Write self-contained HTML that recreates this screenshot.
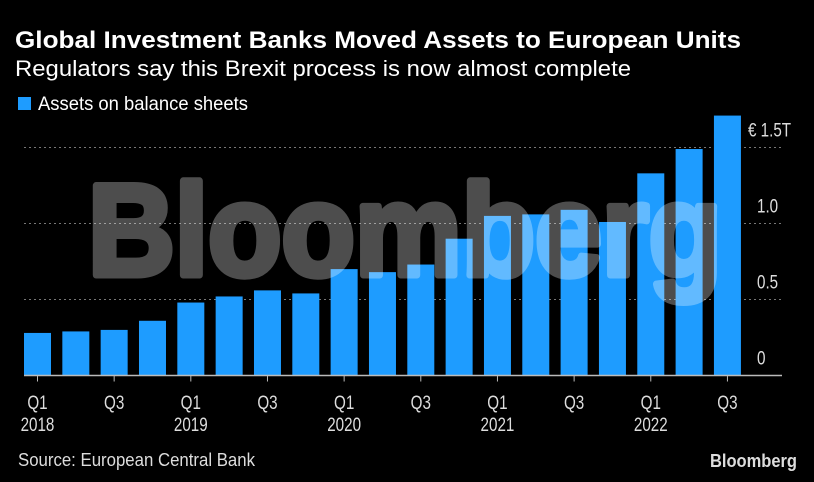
<!DOCTYPE html>
<html><head><meta charset="utf-8"><style>
html,body{margin:0;padding:0;background:#000;width:814px;height:482px;overflow:hidden}
svg{display:block}
text{font-family:"Liberation Sans",sans-serif}
</style></head><body>
<svg id="chart" width="814" height="482" viewBox="0 0 814 482">
  <text x="15" y="48" fill="#fff" font-size="24" style="font-weight:bold" textLength="726" lengthAdjust="spacingAndGlyphs">Global Investment Banks Moved Assets to European Units</text>
  <text x="15" y="76" fill="#fff" font-size="22" textLength="616" lengthAdjust="spacingAndGlyphs">Regulators say this Brexit process is now almost complete</text>
  <rect x="18" y="97" width="13" height="13" fill="#1e9cff"/>
  <text x="38" y="110" fill="#fff" font-size="19" textLength="210" lengthAdjust="spacingAndGlyphs">Assets on balance sheets</text>
  <g id="grid"></g>
  <g id="bars"></g>
  <g opacity="0.3">
    <text x="88" y="275" fill="#fff" stroke="#fff" stroke-width="7" stroke-linejoin="round" font-size="130" style="font-weight:bold" textLength="634" lengthAdjust="spacingAndGlyphs">Bloomberg</text>
  </g>
  <g id="axes"></g>
  <text x="18" y="466" fill="#ddd" font-size="18" textLength="237" lengthAdjust="spacingAndGlyphs">Source: European Central Bank</text>
  <text x="710" y="467" fill="#ddd" font-size="18" style="font-weight:bold" textLength="87" lengthAdjust="spacingAndGlyphs">Bloomberg</text>
</svg>
<script>
const categories = ["Q1 2018","Q2 2018","Q3 2018","Q4 2018","Q1 2019","Q2 2019","Q3 2019","Q4 2019","Q1 2020","Q2 2020","Q3 2020","Q4 2020","Q1 2021","Q2 2021","Q3 2021","Q4 2021","Q1 2022","Q2 2022","Q3 2022"];
const assets = [0.28,0.29,0.30,0.36,0.48,0.52,0.56,0.54,0.70,0.68,0.73,0.90,1.05,1.06,1.09,1.01,1.33,1.49,1.71];
const yTicks = [0,0.5,1.0,1.5];
const yTickLabels = ["0","0.5","1.0","€ 1.5T"];
const xTickLabels = [["Q1","2018"],["Q3",""],["Q1","2019"],["Q3",""],["Q1","2020"],["Q3",""],["Q1","2021"],["Q3",""],["Q1","2022"],["Q3",""]];

const NS="http://www.w3.org/2000/svg";
const x0=24, step=38.33, bw=27, yBase=375.5, pxPerUnit=152;
const xLeft=24, xRight=782;
function xScale(i){return x0+i*step;}
function yScale(v){return yBase-v*pxPerUnit;}
function mk(tag,attrs,parent){const e=document.createElementNS(NS,tag);for(const k in attrs)e.setAttribute(k,attrs[k]);parent.appendChild(e);return e;}
function narrow(t){const w=t.getComputedTextLength();t.setAttribute('textLength',(w*0.8).toFixed(1));t.setAttribute('lengthAdjust','spacingAndGlyphs');}
const grid=document.getElementById('grid'),bars=document.getElementById('bars'),axes=document.getElementById('axes');
yTicks.forEach((t,i)=>{
  const y=yScale(t);
  if(t>0){
    const l=mk('line',{x1:xLeft,x2:xRight,y1:y,y2:y,stroke:'#777','stroke-width':1,'stroke-dasharray':'2,3'},grid);
    
    
  }
  const tx=mk('text',{x:(t===1.5?748:757),y:y-11,fill:'#ddd','font-size':19},axes);
  tx.textContent=yTickLabels[i];
  
  
  narrow(tx);
});
assets.forEach((v,i)=>{
  const r=mk('rect',{x:xScale(i),y:yScale(v),width:bw,height:yBase-yScale(v),fill:'#1e9cff'},bars);
  
  
});
const ax=mk('line',{x1:xLeft,x2:xRight,y1:yBase,y2:yBase,stroke:'#bbb','stroke-width':1.5},axes);


xTickLabels.forEach((lab,j)=>{
  const i=j*2, cx=xScale(i)+bw/2;
  const tk=mk('line',{x1:cx,x2:cx,y1:yBase,y2:yBase+6,stroke:'#bbb','stroke-width':1},axes);
  
  
  const t1=mk('text',{x:cx,y:409,'text-anchor':'middle',fill:'#ddd','font-size':19},axes);
  t1.textContent=lab[0];
  
  
  narrow(t1);
  if(lab[1]){
    const t2=mk('text',{x:cx,y:431,'text-anchor':'middle',fill:'#ddd','font-size':19},axes);
    t2.textContent=lab[1];
    
    
    narrow(t2);
  }
});
</script>
</body></html>
